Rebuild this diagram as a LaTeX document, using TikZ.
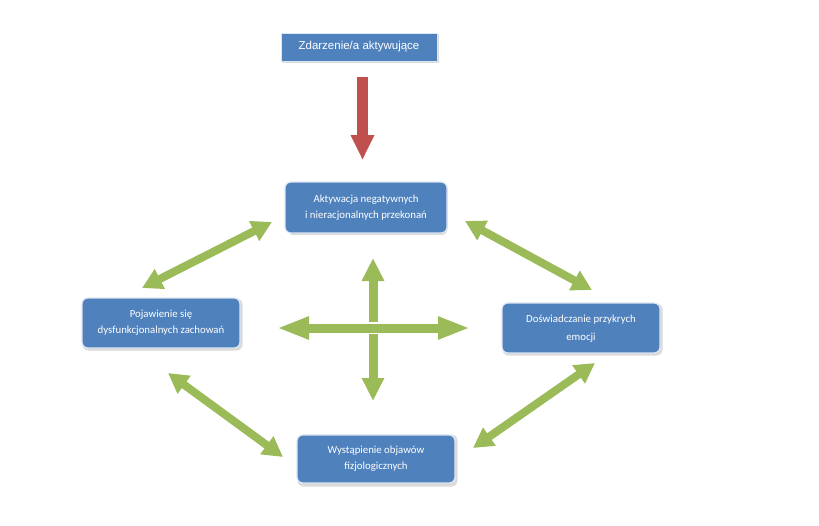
\documentclass[tikz,border=0pt]{standalone}
\usepackage{fontspec}
\setmainfont{Carlito}
\newfontfamily\arialfont{Liberation Sans}
\usetikzlibrary{arrows.meta}
\definecolor{boxblue}{HTML}{4F81BD}
\definecolor{arrgreen}{HTML}{9BBB59}
\definecolor{arrred}{HTML}{C0504D}
\definecolor{rimblue}{HTML}{DCE6F2}
\tikzset{
  procbox/.style={fill=boxblue, draw=rimblue, line width=1.2pt, rounded corners=6pt,
    minimum width=158pt, minimum height=50pt, align=center, text=white,
    font=\fontsize{10.8}{16}\selectfont, inner sep=0pt},
  topbox/.style={fill=boxblue, draw=rimblue, line width=0.8pt,
    minimum width=156pt, minimum height=28pt, text=white, inner sep=0pt,
    font=\arialfont\fontsize{11.5}{12}\selectfont},
  greenarrow/.style={draw=arrgreen, line width=8pt,
    {Triangle[length=20pt,width=21pt]}-{Triangle[length=20pt,width=21pt]}},
  crossarrow/.style={draw=arrgreen, line width=8pt,
    {Triangle[length=#1,width=21pt]}-{Triangle[length=#1,width=21pt]}},
  redarrow/.style={draw=arrred, line width=11pt,
    -{Triangle[length=25pt,width=22pt]}},
  shadowbox/.style={fill=black!14, rounded corners=6pt, draw=none,
    minimum width=160pt, minimum height=52pt, inner sep=0pt}
}
\begin{document}
\begin{tikzpicture}[x=1pt,y=-1pt]
\useasboundingbox[fill=white] (0,0) rectangle (819,525);

% shadows
\node[shadowbox] at (367.5,209) {};
\node[shadowbox] at (162.5,324.5) {};
\node[shadowbox] at (582.5,329.5) {};
\node[shadowbox] at (377.5,460.5) {};
\fill[black!14] (282,34) rectangle (439,63);

% boxes
\node[topbox] (top) at (359,47) {\raisebox{3pt}{Zdarzenie/a aktywujące}};
\node[procbox, minimum width=162pt, minimum height=51pt] (akt) at (366,207.5)
  {Aktywacja negatywnych\\i nieracjonalnych przekonań};
\node[procbox] (poj) at (161,323) {Pojawienie się\\dysfunkcjonalnych zachowań};
\node[procbox] (dos) at (581,328) {\raisebox{4pt}{\begin{tabular}{@{}c@{}}Doświadczanie przykrych\\[2pt]emocji\end{tabular}}};
\node[procbox, minimum height=48pt] (wys) at (376,459) {Wystąpienie objawów\\fizjologicznych};

% arrow end points
\coordinate (r1) at (362.5,77);
\coordinate (r2) at (362.5,160);
\coordinate (nw1) at (272,222);
\coordinate (nw2) at (142,288);
\coordinate (ne1) at (465,221);
\coordinate (ne2) at (592,290);
\coordinate (sw1) at (168,373);
\coordinate (sw2) at (283,457);
\coordinate (se1) at (595,363);
\coordinate (se2) at (473,448);
\coordinate (vt) at (373,258);
\coordinate (vb) at (373,401);
\coordinate (hl) at (277,328);
\coordinate (hr) at (470,328);

% arrows
\draw[redarrow] (r1) -- (r2);
\draw[greenarrow] (nw2) -- (nw1);
\draw[greenarrow] (ne1) -- (ne2);
\draw[greenarrow] (sw1) -- (sw2);
\draw[greenarrow] (se2) -- (se1);
\draw[crossarrow=23pt, line width=9pt] (vt) -- (vb);
\draw[white, line width=11.5pt] (300,328) -- (447,328);
\draw[crossarrow=32pt, line width=9pt] (hl) -- (hr);
\end{tikzpicture}
\end{document}
